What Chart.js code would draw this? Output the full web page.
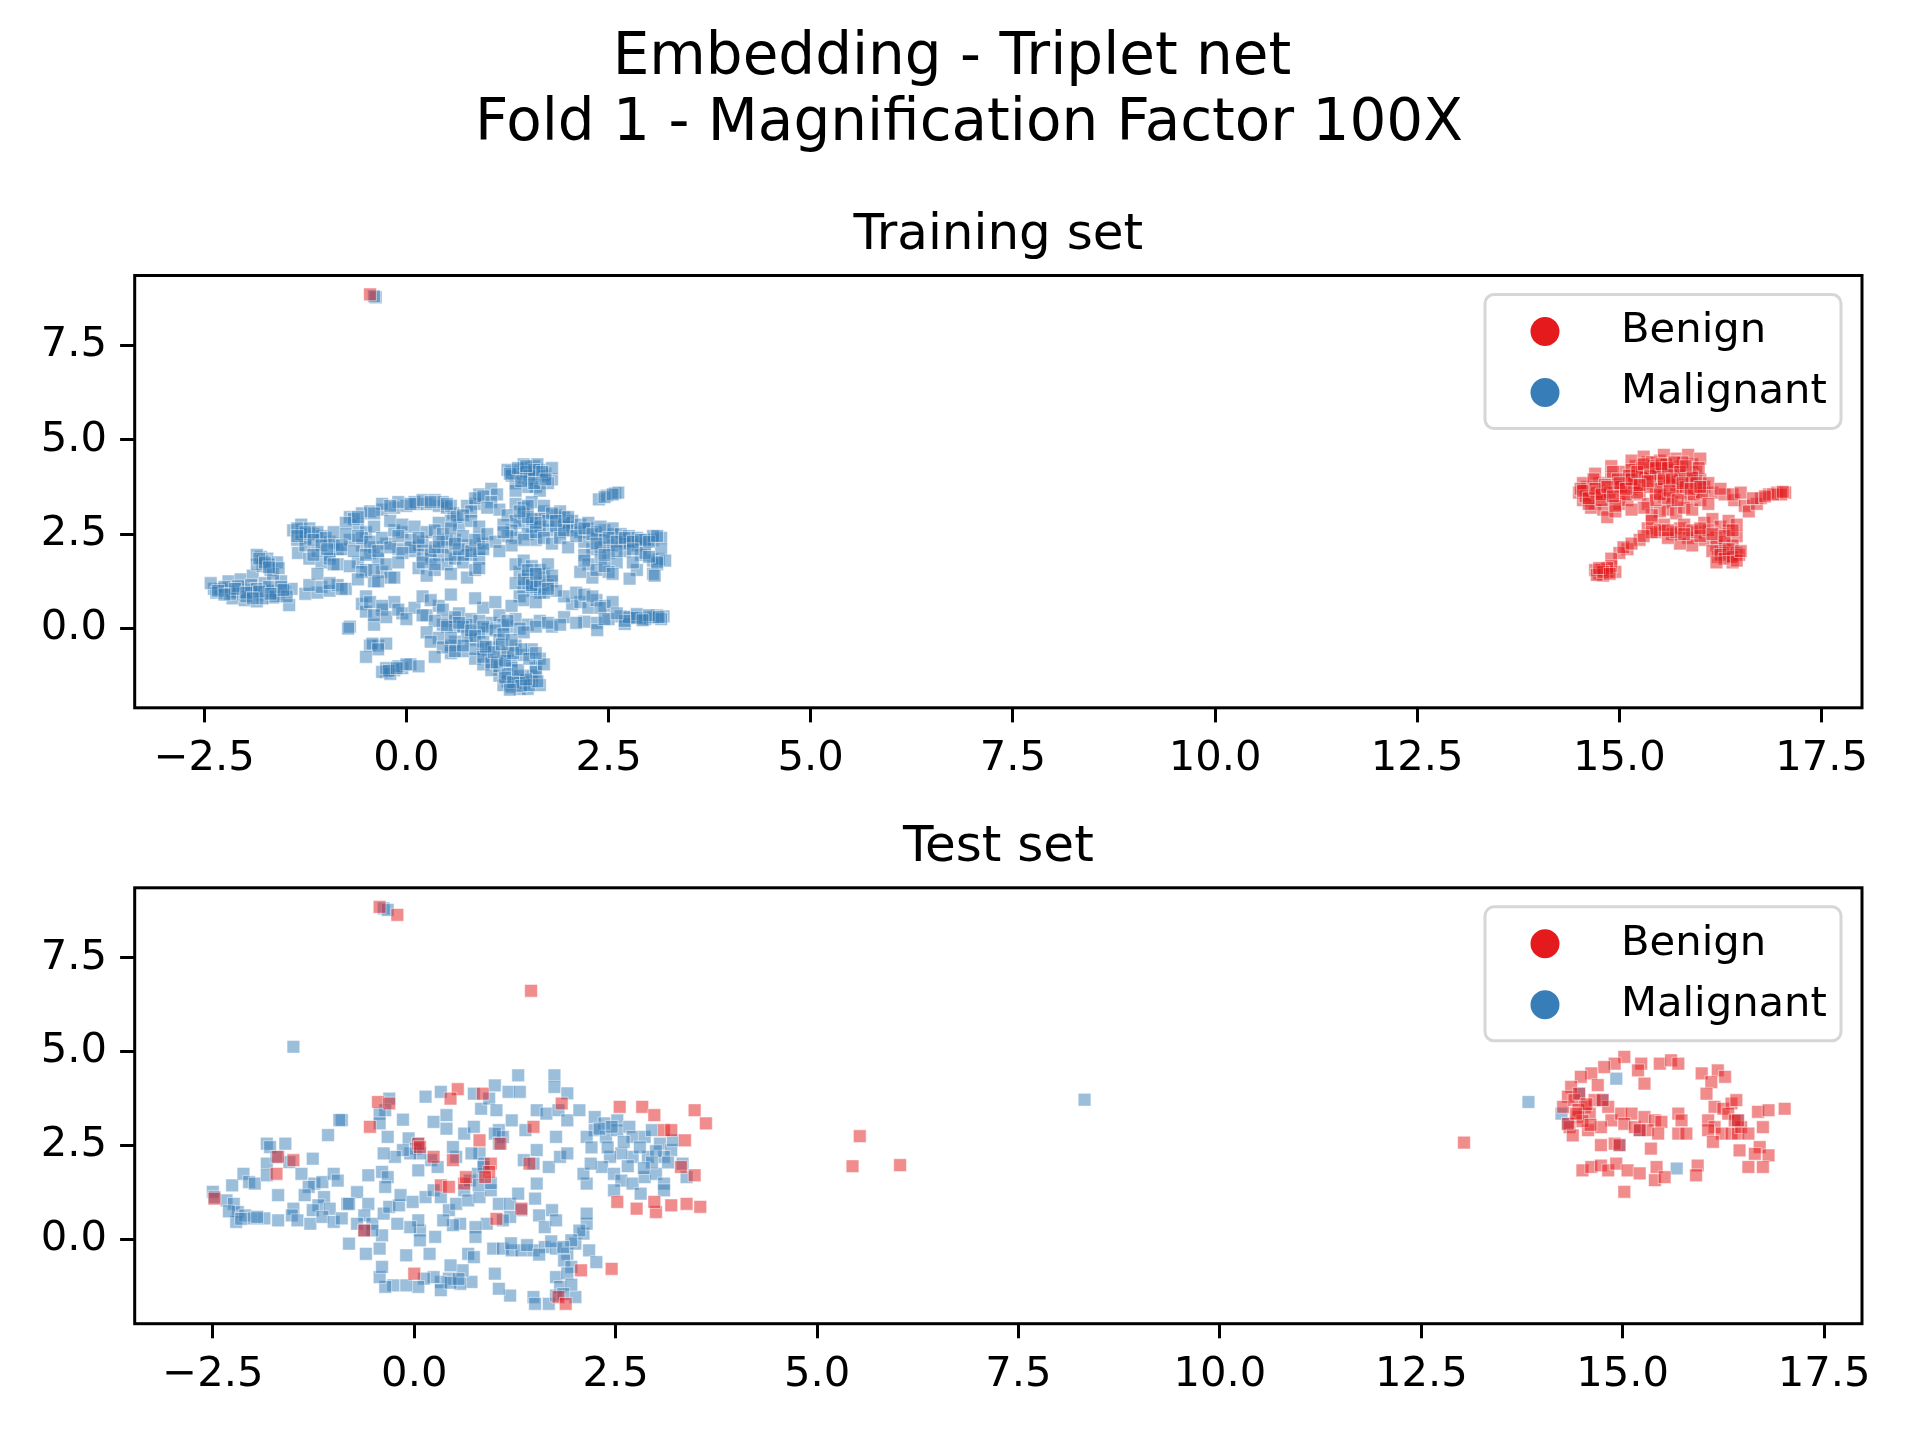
<!DOCTYPE html>
<html>
<head>
<meta charset="utf-8">
<script src="https://cdn.jsdelivr.net/npm/chart.js@4.4.1/dist/chart.umd.min.js"></script>
<style>
body { margin: 0; background: #fff; width: 1920px; height: 1440px; overflow: hidden; font-family: "DejaVu Sans", sans-serif; }
.sup { position: absolute; text-align: center; font-size: 58px; line-height: 66px; color: #000; white-space: nowrap; }
canvas { position: absolute; left: 0; }
</style>
</head>
<body>
<div class="sup" style="left:0;width:1904px;top:21px">Embedding - Triplet net</div>
<div class="sup" style="left:18px;width:1902px;top:87px">Fold 1 - Magnification Factor 100X</div>
<canvas id="trainChart" width="1920" height="600" style="top:180px"></canvas>
<canvas id="testChart" width="1920" height="600" style="top:800px"></canvas>
<script>
// Datos
const classNames = ['Benign', 'Malignant'];
const classColors = ['#e41a1c', '#377eb8'];
const xTicks = [-2.5, 0, 2.5, 5, 7.5, 10, 12.5, 15, 17.5];
const yTicks = [0, 2.5, 5, 7.5];

const trainBenign = [
    [-0.45,8.85],
    [14.50,3.60],[14.55,3.40],[14.60,3.75],[14.65,3.55],[14.70,3.30],[14.75,3.85],[14.80,3.65],[14.85,3.45],[14.90,4.00],[14.95,3.80],
    [15.00,3.60],[15.05,4.15],[15.10,3.95],[15.15,3.70],[15.20,4.30],[15.25,4.05],[15.30,3.85],[15.35,4.40],[15.40,4.20],[15.45,3.95],
    [15.50,4.45],[15.55,4.25],[15.60,4.05],[15.65,3.80],[15.70,4.50],[15.75,4.30],[15.80,4.10],[15.85,3.90],[15.90,4.35],[15.95,4.15],
    [16.00,3.95],[16.05,3.75],[14.65,3.20],[14.80,3.15],[15.00,3.30],[15.10,3.40],[15.25,3.55],[15.35,3.30],[15.45,3.60],[15.55,3.50],
    [15.65,3.35],[15.75,3.60],[15.85,3.45],[15.95,3.70],[15.60,3.15],[15.70,3.05],[15.80,3.20],[15.50,3.10],[15.40,3.00],[15.90,3.15],
    [16.00,3.40],[16.15,3.60],[14.85,2.95],[14.95,3.10],[14.70,4.10],[14.90,4.30],[15.15,4.45],[15.30,4.55],[15.55,4.60],[15.85,4.60],
    [16.00,4.50],[14.55,3.85],[14.75,3.50],[15.20,3.75],[15.50,3.85],[15.70,3.70],[15.15,4.20],[15.40,4.40],
    [14.52,3.70],[14.58,3.50],[14.62,3.30],[14.68,3.95],[14.72,3.60],[14.78,3.40],[14.82,3.80],[14.88,3.60],[14.92,4.15],[14.98,3.95],
    [15.02,3.75],[15.08,3.55],[15.12,4.05],[15.18,3.85],[15.22,3.60],[15.28,4.25],[15.32,4.00],[15.38,3.75],[15.42,4.30],[15.48,4.10],
    [15.52,3.70],[15.58,4.35],[15.62,3.90],[15.68,4.20],[15.72,3.90],[15.78,4.40],[15.82,3.75],[15.88,4.05],[15.92,3.55],[15.98,4.25],
    [16.02,3.60],[16.10,3.85],[15.45,3.40],[15.60,3.45],[15.30,3.20],[15.15,3.15],[14.95,3.25],[16.10,3.30],[16.30,3.55],[16.42,3.40],
    [14.55,3.65],[14.62,3.45],[14.70,3.70],[14.78,3.55],[14.85,3.75],[14.92,3.50],[15.00,3.85],[15.08,3.70],[15.15,3.95],[15.22,4.15],
    [15.30,4.35],[15.38,4.05],[15.45,4.25],[15.52,4.35],[15.60,4.25],[15.68,4.40],[15.75,4.15],[15.82,4.30],[15.90,4.00],[15.95,3.85],
    [15.55,3.95],[15.35,3.90],[15.25,3.80],[15.65,3.95],[15.78,3.85],[15.88,3.70],[16.00,3.75],[15.50,3.55],[15.62,3.65],[15.72,3.40],
    [16.25,3.70],[16.40,3.55],[16.50,3.60],[16.55,3.25],[16.60,3.10],[16.70,3.30],[16.75,3.45],[16.85,3.55],[16.95,3.60],[17.05,3.60],
    [17.00,3.55],[16.65,3.45],[16.90,3.55],[17.02,3.62],[16.80,3.50],
    [15.35,2.65],[15.45,2.55],[15.55,2.75],[15.65,2.50],[15.75,2.65],[15.85,2.40],[15.95,2.55],[16.05,2.80],[16.15,2.90],[16.25,2.70],
    [16.35,2.60],[16.45,2.45],[16.05,2.35],[15.90,2.20],[15.75,2.25],[16.20,2.40],[16.35,2.85],[16.45,2.75],
    [15.40,2.85],[15.50,2.60],[15.60,2.40],[15.70,2.55],[15.80,2.75],[15.90,2.60],[16.00,2.45],[16.10,2.60],[16.20,2.20],[16.30,2.30],
    [16.40,2.20],[16.35,1.95],[16.45,2.00],[16.25,2.05],[16.40,1.75],
    [15.60,2.60],[15.80,2.50],[16.00,2.65],[16.15,2.50],[16.30,2.45],[16.40,2.60],[16.28,2.00],[16.38,1.88],[16.22,1.90],[16.48,1.95],
    [16.15,2.05],[16.25,1.95],[16.30,1.85],[16.40,1.90],[16.45,1.80],[16.35,2.10],[16.50,2.05],[16.20,1.75],
    [15.25,2.35],[15.10,2.10],[15.00,2.00],[14.90,1.85],[14.85,1.50],[14.75,1.45],[14.80,1.40],[14.70,1.55],[14.95,1.50],[14.90,1.65],
    [15.40,2.55],[14.78,1.55],[14.72,1.42],[14.85,1.60],[15.05,2.15],[15.15,2.25],[15.30,2.45],[14.80,1.50],[14.75,1.60],[14.88,1.45]
];

const trainMalignant = [
    [-0.38,8.77],[-0.40,8.80],
    [-2.38,1.05],[-2.30,1.05],[-2.20,1.00],[-2.10,0.98],[-2.02,0.92],[-1.95,1.02],[-1.88,0.95],[-1.80,0.90],[-1.72,0.98],[-1.65,1.00],
    [-1.58,0.92],[-1.50,0.98],[-1.42,1.05],[-2.15,0.80],[-2.00,0.75],[-1.85,0.72],[-1.65,0.82],[-1.45,0.62],[-1.25,0.92],[-1.10,0.95],
    [-2.20,1.25],[-2.05,1.30],[-1.90,1.40],[-1.75,1.20],[-1.55,1.25],
    [-2.42,1.20],[-2.35,0.95],[-2.25,1.10],[-2.18,0.92],[-2.08,1.12],[-1.98,0.85],[-1.92,1.15],[-1.85,1.05],[-1.78,0.80],[-1.70,1.10],
    [-1.62,0.85],[-1.55,1.10],[-1.48,0.85],
    [-2.33,1.00],[-2.12,1.05],[-1.98,0.95],[-1.82,0.98],[-1.68,0.92],[-1.52,1.02],[-1.90,0.80],[-2.25,0.90],
    [-1.80,1.90],[-1.72,1.85],[-1.78,1.65],[-1.68,1.55],[-1.60,1.75],[-1.85,1.95],[-1.78,1.80],[-1.70,1.70],[-1.65,1.45],[-1.58,1.60],
    [-1.85,1.70],[-1.82,1.85],[-1.75,1.75],[-1.70,1.62],
    [-1.20,1.15],[-1.05,1.10],[-0.95,1.00],[-0.85,1.15],[-0.75,1.05],
    [-1.40,2.60],[-1.30,2.55],[-1.25,2.40],[-1.15,2.50],[-1.05,2.45],[-0.95,2.30],[-1.35,2.35],[-1.34,2.00],[-1.20,1.85],[-1.05,1.75],
    [-0.95,1.95],[-0.85,2.10],
    [-1.30,2.75],[-1.20,2.65],[-1.10,2.55],[-1.00,2.40],[-0.90,2.25],[-0.80,2.10],[-1.25,2.20],[-1.10,2.05],[-0.95,1.85],[-0.85,1.70],
    [-1.30,2.50],[-1.35,2.65],[-1.25,2.55],[-1.15,2.35],[-1.05,2.20],[-1.35,2.45],[-0.98,2.10],[-1.15,1.95],
    [-0.70,2.95],[-0.60,2.75],[-0.50,2.55],[-0.40,2.70],[-0.55,2.20],[-0.45,2.00],[-0.35,1.85],[-0.60,1.75],[-0.50,1.55],[-0.30,1.50],
    [-0.20,1.35],[-0.40,1.25],
    [-0.55,3.05],[-0.45,3.10],[-0.30,3.15],[-0.15,3.20],[0.00,3.25],[0.12,3.30],[0.25,3.30],[0.40,3.25],[0.50,3.20],[0.58,3.05],
    [-0.65,2.90],[-0.75,2.80],[0.55,2.85],[0.65,2.75],
    [-0.30,3.30],[-0.10,3.35],[0.10,3.35],[0.20,3.40],[0.35,3.40],[0.45,3.35],[0.55,3.25],
    [-0.40,3.05],[-0.20,3.25],[0.05,3.30],[0.30,3.35],[0.50,3.30],[-0.60,2.95],[0.62,2.95],
    [0.85,3.30],[0.90,3.55],[1.05,3.70],[1.12,3.55],
    [0.75,3.25],[0.85,3.45],[0.95,3.50],[1.05,3.35],[1.15,3.15],[0.80,3.10],[1.00,3.20],
    [1.30,4.15],[1.40,4.20],[1.50,4.25],[1.58,4.30],[1.65,4.20],[1.72,4.10],[1.45,4.00],[1.55,3.95],[1.62,4.05],[1.80,3.95],
    [1.35,3.85],[1.60,3.75],
    [1.25,4.20],[1.30,4.05],[1.40,4.10],[1.45,4.35],[1.55,4.15],[1.62,4.35],[1.70,4.05],[1.75,3.85],[1.50,3.75],[1.35,3.65],
    [1.65,3.65],[1.80,4.25],
    [1.28,4.10],[1.38,4.25],[1.48,4.15],[1.52,4.05],[1.58,4.20],[1.68,4.15],[1.42,3.90],[1.58,3.85],[1.72,3.95],[1.48,4.30],
    [2.38,3.42],[2.48,3.52],[2.58,3.58],[2.62,3.60],[2.45,3.48],[2.55,3.55],
    [1.35,3.30],[1.45,3.20],[1.55,3.35],[1.70,3.10],[1.85,3.00],[1.95,2.95],[2.05,2.85],[1.40,2.80],[1.55,2.70],[1.65,2.90],
    [1.75,2.60],[1.90,2.55],[2.00,2.70],[1.50,2.50],[1.35,2.40],[1.60,2.35],
    [1.25,3.00],[1.35,2.85],[1.45,3.05],[1.55,2.90],[1.65,2.70],[1.75,2.85],[1.85,2.70],[1.95,2.80],[2.05,2.60],[1.30,2.60],
    [1.45,2.35],[1.60,2.55],[1.70,2.40],[1.80,2.25],[1.90,2.40],[2.00,2.15],[1.50,3.25],[1.70,3.25],[1.90,3.10],
    [2.15,2.55],[2.25,2.65],[2.35,2.40],[2.45,2.60],[2.55,2.50],[2.65,2.35],[2.75,2.30],[2.85,2.20],[2.95,2.25],[3.05,2.35],
    [3.15,2.40],[2.30,2.10],[2.50,2.00],[2.70,2.05],[2.90,1.95],[3.05,1.80],[3.10,1.70],[2.40,1.85],[2.20,1.95],[2.60,1.75],
    [2.85,1.55],[3.05,1.45],[2.50,1.50],[2.30,1.35],[3.12,1.84],[3.07,1.40],[2.76,1.32],
    [2.15,2.75],[2.25,2.80],[2.35,2.55],[2.45,2.35],[2.55,2.65],[2.65,2.50],[2.75,2.45],[2.85,2.40],[2.95,2.35],[3.05,2.45],
    [3.15,2.10],[3.20,1.80],[2.40,2.15],[2.55,2.20],[2.70,2.25],[2.20,2.30],[2.25,1.70],[2.35,1.55],[2.45,1.65],[2.55,1.45],
    [2.15,1.50],[2.95,2.00],[2.80,1.75],[3.10,1.75],
    [1.95,2.60],[2.10,2.45],[2.20,2.65],[2.30,2.50],[2.40,2.70],[2.50,2.40],[2.60,2.30],[2.70,2.40],[2.80,2.30],[2.90,2.35],
    [3.00,2.30],[3.10,2.45],[2.35,2.25],[2.60,2.05],[2.80,2.10],[3.00,1.90],[2.20,1.80],[2.45,1.95],[1.60,2.80],[1.80,3.05],
    [1.50,2.95],[1.40,3.10],[1.85,2.85],[2.00,2.95],
    [2.80,0.30],[2.90,0.30],[3.00,0.28],[3.10,0.35],[3.18,0.32],[2.65,0.32],[2.50,0.25],[2.35,0.15],[2.70,0.12],[2.20,0.18],
    [2.36,-0.04],[2.75,0.30],[2.85,0.38],[2.95,0.25],[3.05,0.30],[3.15,0.25],[2.70,0.20],[2.85,0.28],[3.00,0.35],[3.12,0.30],
    [2.92,0.22],
    [2.05,0.65],[2.15,0.70],[2.25,0.55],[2.35,0.75],[2.45,0.60],
    [1.95,0.85],[2.10,0.95],[2.20,0.90],[2.30,0.85],[2.40,0.55],[2.55,0.70],[2.45,0.25],[2.60,0.40],
    [1.40,1.50],[1.50,1.40],[1.60,1.30],[1.70,1.45],[1.80,1.25],[1.45,1.10],[1.55,1.00],[1.65,0.95],[1.75,1.15],[1.85,1.00],
    [1.40,0.85],[1.35,1.70],[1.45,1.80],[1.55,1.65],[1.65,1.55],[1.75,1.70],[1.50,1.20],[1.60,1.10],[1.70,0.95],[1.35,1.20],
    [1.80,1.40],[1.45,0.75],[1.60,0.70],[1.45,1.30],[1.55,1.15],[1.65,1.25],[1.75,1.05],[1.50,1.55],[1.60,1.45],
    [0.10,2.05],[0.20,1.95],[0.30,1.85],[0.40,1.95],[0.50,1.70],[0.60,1.85],[0.70,1.75],[0.80,1.95],[0.90,1.85],[0.15,1.60],
    [0.35,1.55],[0.55,1.45],[0.75,1.35],[0.85,1.55],[0.25,1.40],
    [-0.05,2.55],[0.05,2.35],[0.15,2.20],[0.30,2.05],[0.45,2.15],[0.60,2.35],[0.75,2.20],[0.90,2.10],[0.70,1.95],[0.55,1.95],
    [0.35,1.70],[0.20,1.75],[0.95,2.25],[0.90,1.60],
    [-0.70,2.35],[-0.55,2.40],[-0.40,2.15],[-0.25,2.25],[-0.10,2.10],[0.05,2.15],[0.20,2.30],[0.35,2.15],[0.50,2.35],[0.65,2.10],
    [0.80,2.05],[0.90,2.40],
    [-0.90,2.55],[-0.75,2.50],[-0.60,2.45],[-0.45,2.30],[-0.30,2.40],[-0.15,2.60],[-0.80,2.20],[-0.65,2.05],[-0.50,1.95],[-0.35,2.05],
    [-0.20,2.15],[-0.05,2.00],[-0.90,1.70],[-0.70,1.65],[-0.55,1.50],[-0.40,1.55],[-0.25,1.70],[-0.10,1.75],[-0.60,1.30],[-0.35,1.25],
    [-0.15,1.35],[-1.10,1.45],[-0.95,1.20],[-0.80,1.05],
    [-0.20,2.85],[-0.05,2.75],[0.10,2.70],[0.25,2.55],[0.40,2.80],[0.15,2.40],[-0.10,2.45],[0.70,3.00],[0.80,2.85],[0.90,2.70],
    [1.20,2.75],[1.25,2.45],
    [0.35,2.60],[0.45,2.50],[0.55,2.65],[0.70,2.45],[0.85,2.35],[1.00,2.50],[1.10,2.30],[1.20,2.55],[1.30,2.20],[0.95,2.10],
    [1.15,2.05],[0.40,2.30],[0.60,2.25],
    [-0.55,0.65],[-0.50,0.45],[-0.30,0.50],[-0.15,0.70],[-0.05,0.40],[0.10,0.55],[0.25,0.35],[0.40,0.60],[0.50,0.20],[0.65,0.40],
    [0.80,0.25],[0.95,0.55],[1.05,0.15],[1.15,0.35],[1.25,0.05],[1.35,0.25],[1.50,0.10],[1.65,0.20],[1.80,0.05],[1.95,0.30],
    [2.10,0.15],[0.20,0.85],[0.55,0.90],[0.85,0.80],[1.10,0.70],[1.30,0.60],[-0.70,0.05],[-0.40,0.10],
    [0.45,0.10],[0.60,0.05],[0.75,0.10],[0.90,0.20],[1.00,0.00],[1.20,0.10],[1.40,0.00],[1.60,0.05],[1.75,0.15],[1.90,0.10],
    [-0.50,0.85],[-0.45,0.70],[-0.30,0.60],[-0.25,0.30],[-0.10,0.50],[0.00,0.25],[-0.40,0.35],
    [0.30,0.75],[0.45,0.50],[0.60,0.30],[0.70,0.05],[0.80,-0.30],[0.90,-0.10],[0.95,-0.55],[0.75,-0.20],[0.60,-0.35],[0.55,-0.65],
    [0.85,-0.80],
    [0.20,0.35],[0.35,0.20],[0.50,0.05],[0.65,0.15],[0.80,-0.05],[0.95,0.05],[1.10,-0.05],[1.25,0.20],[0.25,-0.10],[0.40,-0.25],
    [0.55,-0.45],[0.70,-0.60],[0.85,-0.55],[1.00,-0.65],[1.10,-0.80],[1.20,-0.70],[1.30,-0.85],[1.15,-1.25],[1.25,-1.40],[1.35,-1.50],
    [1.40,-1.60],[1.45,-1.30],[1.55,-1.25],[1.60,-1.05],[1.30,-1.05],[1.20,-1.50],[0.95,-0.95],[1.05,-1.10],
    [0.85,-0.20],[0.95,-0.35],[1.05,-0.50],[1.15,-0.30],[1.25,-0.60],[1.35,-0.45],[1.45,-0.70],[1.55,-0.55],[1.65,-0.80],[0.95,-0.75],
    [1.05,-0.90],[1.15,-1.00],[1.25,-1.20],[1.35,-1.35],[1.45,-1.45],[1.55,-1.40],[1.65,-1.50],[1.30,-1.55],[1.50,-1.60],[1.40,-1.25],
    [1.60,-1.15],[1.70,-0.95],[1.20,-0.15],[1.45,-0.10],
    [1.22,-1.30],[1.32,-1.42],[1.42,-1.52],[1.52,-1.50],[1.62,-1.40],[1.28,-1.62],[1.48,-1.35],[1.38,-1.10],[1.12,-0.90],[1.22,-0.85],
    [1.32,-0.65],[1.42,-0.55],[1.52,-0.80],[1.08,-0.62],[0.98,-0.48],[1.18,-0.42],[1.30,-0.30],[1.60,-0.65],
    [0.30,-0.35],[0.45,-0.50],[0.60,-0.60],[0.70,-0.45],[0.55,-0.25],[0.35,-0.75],
    [-0.45,-0.45],[-0.35,-0.45],[-0.25,-0.40],[-0.42,-0.40],[-0.35,-0.55],
    [-0.25,-1.15],[-0.15,-1.10],[-0.05,-1.05],[0.05,-0.95],[0.15,-1.00],[-0.30,-1.15],[-0.20,-1.20],[-0.10,-1.00],[0.00,-0.95],[-0.25,-1.05],
    [-0.22,-1.12],[-0.12,-1.05],[-0.50,-0.75],[-0.72,0.00]
];

const testBenign = [
    [-0.43,8.85],[-0.21,8.64],[1.45,6.62],[-0.45,3.66],[-0.31,3.62],[-0.55,3.00],[0.05,2.55],[0.07,2.46],[0.54,4.00],[0.45,3.75],
    [0.85,3.88],[0.81,2.64],[1.07,2.55],[0.95,2.02],[0.93,1.80],[0.88,1.66],[0.24,2.20],[0.48,2.11],[0.33,1.44],[0.43,1.40],
    [0.62,1.49],[0.64,1.66],[-1.69,2.20],[-1.50,2.11],[-1.71,1.75],[-2.48,1.09],[-0.62,0.24],[1.33,0.82],[1.02,0.55],[1.43,2.02],
    [1.48,3.00],[1.83,3.62],[2.55,3.53],[2.83,3.53],[2.98,3.31],[3.10,2.91],[3.48,3.44],[3.62,3.09],[3.36,2.64],[3.48,1.71],
    [3.31,1.93],[2.52,1.00],[2.76,0.82],[3.00,0.73],[3.19,0.91],[3.38,0.95],[3.55,0.87],[2.98,1.00],[2.45,-0.78],[2.07,-0.82],
    [1.79,-1.53],[1.88,-1.71],[0.00,-0.91],[3.19,2.91],
    [5.53,2.75],[5.44,1.95],[6.03,1.98],[13.03,2.58],
    [15.02,4.86],[14.90,4.68],[15.23,4.68],[15.19,4.50],[15.46,4.68],[15.60,4.77],[15.69,4.68],[15.27,4.15],[14.77,4.59],[14.61,4.42],
    [14.48,4.33],[14.36,4.06],[14.32,3.80],[14.26,3.53],[14.40,3.71],[14.53,3.53],[14.59,3.35],[14.44,3.26],[14.34,2.99],[14.69,4.11],
    [14.65,3.71],[14.82,3.53],[14.86,3.17],[14.98,3.35],[14.73,2.99],[14.57,2.91],[14.38,2.77],[14.73,2.51],[14.90,2.55],[15.11,3.35],
    [15.02,3.08],[15.15,2.99],[15.27,3.26],[15.40,3.17],[15.48,3.13],[15.31,2.91],[15.44,2.82],[15.69,3.35],[15.73,3.17],[15.69,2.82],
    [15.79,2.82],[15.35,2.42],[14.50,1.84],[14.61,1.93],[14.73,1.97],[14.82,1.84],[14.92,2.02],[15.06,1.84],[15.21,1.76],[15.42,1.93],
    [15.40,1.58],[15.52,1.66],[15.02,1.27],[15.93,1.97],[15.91,1.71],
    [15.98,4.42],[16.18,4.50],[16.27,4.33],[16.10,4.19],[16.04,3.88],[16.14,3.53],[16.25,3.48],[16.35,3.62],[16.41,3.71],[16.31,3.35],
    [16.06,3.17],[16.14,2.99],[16.23,2.82],[16.06,2.91],[16.12,2.60],[16.35,2.82],[16.43,2.82],[16.47,2.99],[16.56,2.82],[16.68,3.40],
    [16.81,3.44],[17.01,3.48],[16.74,2.99],[16.70,2.46],[16.81,2.24],[16.64,2.28],[16.45,2.37],[16.56,1.93],[16.74,1.93],[16.39,3.17],
    [14.46,3.88],[14.75,3.71],[14.32,3.08],[14.96,2.51],[15.21,2.91],[16.43,3.17],
    [14.45,3.45],[14.55,3.60],[14.50,3.15],[14.60,3.05],[14.42,3.35]
];

const testMalignant = [
    [-0.38,8.81],[-0.33,8.77],[-1.50,5.13],[8.32,3.72],[13.83,3.66],
    [1.29,4.37],[1.74,4.37],[1.74,4.06],[1.90,3.89],[1.00,4.10],[1.17,3.93],[1.31,3.93],[0.74,3.88],[0.33,3.93],[0.14,3.80],
    [-0.31,3.75],[-0.36,3.44],[-0.43,3.35],[-0.14,3.19],[-0.43,3.09],[-0.90,3.18],[-1.07,2.78],[-0.33,2.73],[-0.07,2.69],[0.05,2.55],
    [0.24,3.13],[0.40,3.31],[0.40,2.95],[0.62,2.82],[0.74,3.00],[0.83,3.48],[0.93,3.75],[1.02,3.44],[1.05,2.91],[1.10,2.73],
    [1.21,3.17],[1.38,2.91],[1.52,3.44],[1.64,3.35],[1.79,3.44],[1.90,3.17],[1.76,2.73],[1.52,2.38],[1.36,2.11],[1.48,2.02],
    [1.67,1.93],[1.81,2.20],[1.90,2.29],
    [2.05,3.44],[2.24,3.26],[2.36,3.09],[2.52,3.17],[2.24,2.91],[2.14,2.73],[2.38,2.73],[2.52,2.91],[2.67,3.00],[2.71,2.73],
    [2.86,2.73],[2.95,2.91],[3.05,2.55],[3.19,2.38],[3.10,2.20],[2.90,2.20],[2.71,2.20],[2.57,2.29],[2.43,2.20],[2.33,1.93],
    [2.48,1.75],[2.57,1.57],[2.71,1.49],[2.86,1.66],[3.00,1.75],[3.10,1.49],[2.81,1.22],[2.48,1.31],[2.14,1.49],[2.10,1.75],
    [2.19,2.02],[3.33,2.02],[3.38,1.66],[3.21,2.64],[3.10,1.31],
    [2.30,2.95],[2.45,3.00],[2.60,2.60],[2.80,2.45],[3.00,2.35],[2.95,2.05],[2.65,1.95],[2.40,2.45],[2.20,2.45],[3.15,2.05],[2.85,1.90],
    [1.00,2.82],[1.05,2.55],[0.81,2.29],[0.86,2.02],[0.71,2.29],[0.52,2.20],[0.48,2.46],[0.21,2.11],[0.29,1.93],[0.05,1.84],
    [0.02,2.42],[0.07,2.29],[-0.05,2.29],[-0.14,2.38],[-0.24,2.20],[-0.38,2.29],[-0.40,1.80],[-0.33,1.66],[-0.36,1.40],[-0.57,1.71],
    [-0.71,1.26],[-0.83,0.95],[-0.57,0.95],[-0.62,0.64],[-0.52,0.42],[-0.38,0.69],[-0.31,0.87],[-0.19,0.91],[-0.17,1.18],[-0.02,1.00],
    [0.14,1.13],[0.24,1.31],[0.33,1.13],[0.43,0.78],[0.52,0.95],[0.62,1.31],[0.69,1.57],[0.79,1.75],[0.86,1.93],[0.67,1.04],
    [0.81,1.13],[0.95,1.31],[1.05,0.95],[1.19,0.95],[1.29,1.22],[1.33,0.78],[1.50,1.09],[1.55,0.64],[1.52,1.49],[1.71,0.78],
    [1.62,0.33],[1.76,0.51],[1.19,0.60],[1.10,0.51],[0.90,0.42],[0.76,0.33],[0.57,0.42],[0.48,0.38],[0.36,0.51],[0.26,0.07],
    [0.07,0.24],[0.05,0.51],[-0.05,0.33],[-0.21,0.42],[-0.40,0.11],[-0.52,0.24],[-0.81,-0.11],[-0.60,-0.38],[-0.43,-0.24],[0.76,0.07],
    [0.98,-0.24],[1.10,-0.24],[1.21,-0.29],[1.33,-0.29],[1.48,-0.29],[1.62,-0.20],[1.76,-0.24],[1.90,-0.38],[2.00,-0.11],[2.10,0.16],
    [2.14,0.42],[2.14,0.69],[2.17,-0.29],[2.05,0.24],[1.95,-0.02],[1.86,-0.56],[1.95,-0.73],[1.76,-1.00],[1.81,-1.26],[2.26,-0.60],
    [2.00,-1.53],[1.48,-1.53],[1.50,-1.71],[1.67,-1.71],[1.76,-1.49],[1.19,-1.49],[1.05,-1.31],[1.00,-0.91],[0.71,-1.13],[0.60,-0.82],
    [0.67,-0.38],[0.74,-0.47],[0.45,-0.69],[0.43,-1.04],[0.57,-1.18],[0.33,-1.13],[0.24,-1.00],[0.12,-1.04],[0.19,-0.38],[0.07,-0.02],
    [-0.10,-0.42],[0.33,-1.35],[0.05,-1.26],[-0.10,-1.22],[-0.26,-1.22],[-0.36,-1.26],[-0.43,-1.00],[-0.40,-0.73],
    [1.20,-0.10],[1.40,-0.15],[1.55,-0.40],[1.70,-0.05],[1.85,-0.20],[1.90,-0.90],[1.95,-1.20],[1.85,-1.45],[0.45,-1.15],[0.55,-1.05],
    [0.80,1.45],[0.95,1.50],
    [-2.50,1.27],[-2.48,1.13],[-2.33,1.04],[-2.26,1.44],[-2.12,1.75],[-2.05,1.53],[-1.98,1.49],[-2.24,0.95],[-2.19,0.73],[-2.21,0.47],
    [-2.10,0.64],[-2.00,0.56],[-1.86,0.56],[-1.69,0.51],[-1.69,1.18],[-1.83,2.02],[-1.83,2.55],[-1.60,2.55],[-1.79,2.46],[-1.83,1.71],
    [-1.71,2.20],[-1.55,2.06],[-1.40,1.75],[-1.26,2.15],[-1.24,1.49],[-1.31,1.40],[-1.14,1.53],[-1.00,1.75],[-0.95,1.57],[-1.12,1.13],
    [-1.19,0.91],[-1.26,0.78],[-1.05,0.82],[-1.36,1.18],[-1.50,0.82],[-1.52,0.64],[-1.45,0.51],[-1.29,0.42],[-1.14,0.60],[-1.00,0.47],
    [-0.90,0.56],[-0.81,0.95],[-0.71,0.42],[-0.62,0.24],[-0.93,3.18],[-2.30,0.75],[-2.15,0.55],[-1.95,0.60],
    [14.92,4.28],[14.46,3.88],[14.75,3.71],[14.24,3.35],[14.32,3.08],[14.96,2.51],[15.21,2.91],[15.67,1.89],[16.43,3.17]
];

// Plugin para el marco, el titulo del subplot y la leyenda
const framePlugin = {
    id: 'frame',
    afterDraw(chart, args, opts) {
        const ctx = chart.ctx;
        const a = chart.chartArea;
        ctx.save();
        ctx.strokeStyle = '#000';
        ctx.lineWidth = 3;
        ctx.strokeRect(a.left, a.top, a.right - a.left, a.bottom - a.top);

        ctx.fillStyle = '#000';
        ctx.font = '50px "DejaVu Sans"';
        ctx.textAlign = 'center';
        ctx.textBaseline = 'alphabetic';
        ctx.fillText(opts.title, (a.left + a.right) / 2, a.top - 27);

        const w = 356, h = 134;
        const x0 = a.right - 21 - w, y0 = a.top + 19;
        ctx.beginPath();
        ctx.roundRect(x0, y0, w, h, 9);
        ctx.fillStyle = 'rgba(255,255,255,0.8)';
        ctx.fill();
        ctx.strokeStyle = '#d6d6d6';
        ctx.lineWidth = 3;
        ctx.stroke();
        classNames.forEach((name, i) => {
            const cy = y0 + 37 + i * 61;
            ctx.beginPath();
            ctx.arc(x0 + 60, cy, 14.5, 0, Math.PI * 2);
            ctx.fillStyle = classColors[i];
            ctx.fill();
            ctx.fillStyle = '#000';
            ctx.font = '41.7px "DejaVu Sans"';
            ctx.textAlign = 'left';
            ctx.textBaseline = 'middle';
            ctx.fillText(name, x0 + 136, cy);
        });
        ctx.restore();
    }
};

const fmt = (v) => v.toFixed(1).replace('-', '\u2212');

const toPoints = (arr) => arr.map(p => ({ x: p[0], y: p[1] }));

const makeChart = (canvasId, title, benign, malignant, xMin, xMax, yMin, yMax, padTop, xAxisHeight) => {
    const ctx = document.getElementById(canvasId).getContext('2d');
    const series = [benign, malignant];
    return new Chart(ctx, {
        type: 'scatter',
        data: {
            datasets: series.map((data, i) => ({
                label: classNames[i],
                data: toPoints(data),
                pointStyle: 'rect',
                pointRadius: 9,
                pointHoverRadius: 9,
                backgroundColor: classColors[i] + '80',
                borderColor: 'rgba(255,255,255,0.5)',
                borderWidth: 1
            }))
        },
        options: {
            responsive: false,
            animation: false,
            devicePixelRatio: 1,
            layout: { padding: { top: padTop, right: 58, bottom: 0, left: 0 } },
            plugins: {
                legend: { display: false },
                tooltip: { enabled: false },
                frame: { title: title }
            },
            scales: {
                x: {
                    type: 'linear',
                    min: xMin,
                    max: xMax,
                    afterBuildTicks: (scale) => { scale.ticks = xTicks.map(v => ({ value: v })); },
                    afterFit: (scale) => { scale.height = xAxisHeight; },
                    border: { display: false },
                    grid: { drawOnChartArea: false, drawTicks: true, tickLength: 14.6, tickWidth: 3, tickColor: '#000' },
                    ticks: {
                        color: '#000',
                        padding: 12,
                        maxRotation: 0,
                        autoSkip: false,
                        font: { family: 'DejaVu Sans', size: 41.7 },
                        callback: (v) => fmt(v)
                    }
                },
                y: {
                    type: 'linear',
                    min: yMin,
                    max: yMax,
                    afterBuildTicks: (scale) => { scale.ticks = yTicks.map(v => ({ value: v })); },
                    afterFit: (scale) => { scale.width = 134.7; },
                    border: { display: false },
                    grid: { drawOnChartArea: false, drawTicks: true, tickLength: 14.6, tickWidth: 3, tickColor: '#000' },
                    ticks: {
                        color: '#000',
                        padding: 13,
                        autoSkip: false,
                        font: { family: 'DejaVu Sans', size: 41.7 },
                        callback: (v) => fmt(v)
                    }
                }
            }
        },
        plugins: [framePlugin]
    });
};

makeChart('trainChart', 'Training set', trainBenign, trainMalignant, -3.36, 18.0, -2.1, 9.35, 95.5, 72.2);
makeChart('testChart', 'Test set', testBenign, testMalignant, -3.47, 17.97, -2.24, 9.36, 87.8, 76.3);
</script>
</body>
</html>
